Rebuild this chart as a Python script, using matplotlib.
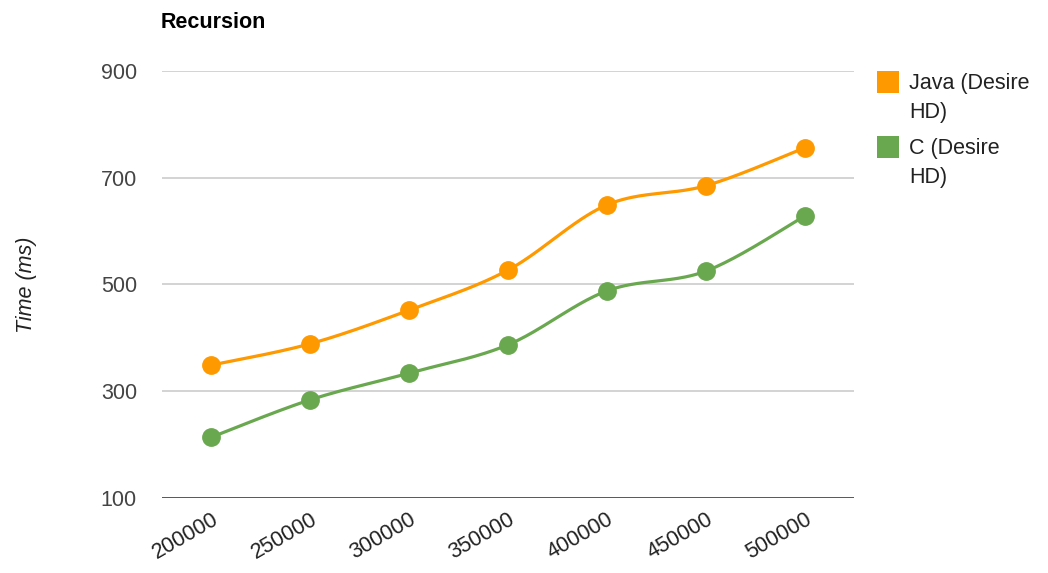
import numpy as np
import matplotlib
matplotlib.use("Agg")
import matplotlib.pyplot as plt
from matplotlib.patches import Rectangle

# Data
sizes = ["200000", "250000", "300000", "350000", "400000", "450000", "500000"]
java_ms = [349, 389, 452, 527, 649, 685, 756]
c_ms = [214, 284, 334, 387, 488, 525, 628]
series_names = ["Java (Desire\nHD)", "C (Desire\nHD)"]
series_colors = ["#ff9900", "#6aa84f"]
yticks = [100, 300, 500, 700, 900]

plt.rcParams["font.family"] = ["Liberation Sans", "DejaVu Sans"]


def smooth_curve(x, y, n=40):
    """Catmull-Rom style cubic Bezier through the points."""
    x = np.asarray(x, float)
    y = np.asarray(y, float)
    pts = np.column_stack([x, y])
    out = []
    k = 1.0 / 6.0
    for i in range(len(pts) - 1):
        p0 = pts[i - 1] if i > 0 else pts[i]
        p1 = pts[i]
        p2 = pts[i + 1]
        p3 = pts[i + 2] if i + 2 < len(pts) else pts[i + 1]
        c1 = p1 + (p2 - p0) * k
        c2 = p2 - (p3 - p1) * k
        t = np.linspace(0, 1, n)[:, None]
        seg = ((1 - t) ** 3) * p1 + 3 * ((1 - t) ** 2) * t * c1 + 3 * (1 - t) * t ** 2 * c2 + t ** 3 * p2
        out.append(seg if i == 0 else seg[1:])
    seg = np.vstack(out)
    return seg[:, 0], seg[:, 1]


fig = plt.figure(figsize=(10.48, 5.73), dpi=100)
ax = fig.add_axes([162 / 1048, 1 - 498 / 573, (854 - 162) / 1048, (498 - 71) / 573])

xs = np.arange(len(sizes))
for vals, color in zip([java_ms, c_ms], series_colors):
    sx, sy = smooth_curve(xs, vals)
    ax.plot(sx, sy, color=color, lw=2.3, solid_capstyle="round", zorder=3)
    ax.plot(xs, vals, "o", color=color, ms=12.5, mec=color, zorder=4)

ax.set_xlim(-0.5, len(sizes) - 0.5)
ax.set_ylim(100, 900)
ax.set_yticks(yticks)
ax.set_yticklabels([str(v) for v in yticks], fontsize=15.5, color="#444444")
ax.set_xticks(xs)
ax.set_xticklabels(sizes, rotation=30, ha="right", rotation_mode="anchor",
                   fontsize=15.5, color="#222222")
ax.tick_params(axis="both", length=0)
ax.tick_params(axis="y", pad=18)
ax.tick_params(axis="x", pad=8)

for spine in ax.spines.values():
    spine.set_visible(False)
ax.grid(axis="y", color="#cccccc", lw=1.2, zorder=0)
ax.axhline(100, color="#333333", lw=1.8, zorder=2)

ax.set_ylabel("Time (ms)", fontsize=15.5, style="italic", color="#222222", labelpad=46)
fig.text(161 / 1048, 1 - 22 / 573, "Recursion", fontsize=15.5, fontweight="bold",
         color="#000000", ha="left", va="center")

# Legend
legend_rows = [82, 147]
for name, color, row in zip(series_names, series_colors, legend_rows):
    fig.patches.append(Rectangle((877 / 1048, 1 - (row + 11) / 573), 22 / 1048, 22 / 573,
                                 transform=fig.transFigure, facecolor=color,
                                 edgecolor="none"))
    fig.text(909 / 1048, 1 - (row - 9) / 573, name, fontsize=15.5, color="#222222",
             ha="left", va="top", linespacing=1.5)

fig.savefig("out.png", dpi=100, facecolor="white")
